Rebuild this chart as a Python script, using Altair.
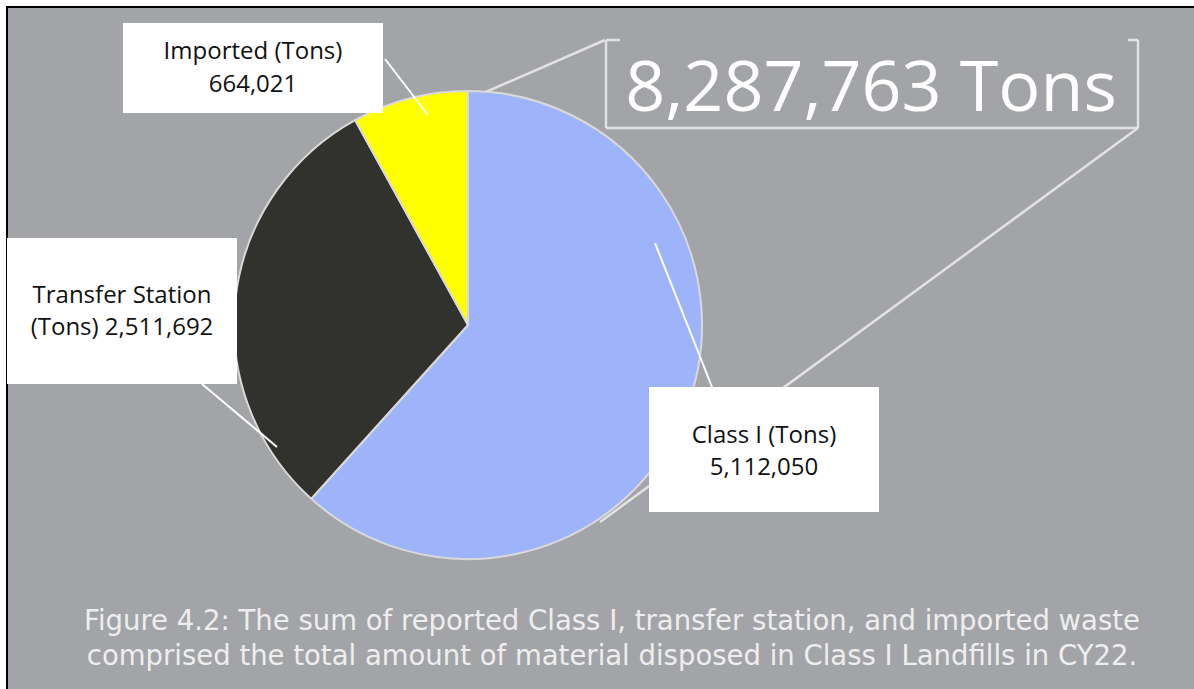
import altair as alt
import pandas as pd

# ---- data ----
categories = ["Class I", "Transfer Station", "Imported"]
tons = [5112050, 2511692, 664021]
slice_colors = ["#9db4fb", "#31312d", "#ffff00"]
caption_lines = [
    "Figure 4.2: The sum of reported Class I, transfer station, and imported waste",
    "comprised the total amount of material disposed in Class I Landfills in CY22.",
]

total = sum(tons)
fmt = lambda v: f"{v:,}"

# label text lines built from the data
label_lines = {
    "Class I": [f"Class I (Tons)", fmt(tons[0])],
    "Transfer Station": ["Transfer Station", f"(Tons) {fmt(tons[1])}"],
    "Imported": ["Imported (Tons)", fmt(tons[2])],
}

# ---- layout (pixel positions of annotations) ----
W, H = 1194, 689
CX, CY, R = 468, 325, 234
BG = "#a3a4a8"

box_pos = {  # x, x2, y, y2, text center x, first line y, second line y
    "Imported": (123, 383, 23, 113, 253, 52, 85),
    "Transfer Station": (7, 237, 238, 384, 122, 296, 328),
    "Class I": (649, 879, 387, 512, 764, 436, 468),
}
leaders = [  # white leader lines
    (385, 59, 428, 115),
    (202, 384, 277, 447),
    (712, 387, 655, 243),
]
callout = [  # light lines of the total callout
    (605, 40, 472, 98),
    (1138, 128, 600, 522),
    (606, 40, 606, 128),
    (606, 128, 1138, 128),
    (1138, 40, 1138, 128),
    (606, 40, 620, 40),
    (1128, 40, 1138, 40),
]

X = lambda f: alt.X(f, type="quantitative", scale=None, axis=None)
Y = lambda f: alt.Y(f, type="quantitative", scale=None, axis=None)
X2 = lambda f: alt.X2(f)
Y2 = lambda f: alt.Y2(f)

frame = alt.Chart(pd.DataFrame([{"x": 7, "x2": W + 20, "y": 7, "y2": H + 20}])).mark_rect(
    fill=BG, stroke="black", strokeWidth=2
).encode(x=X("x"), x2=X2("x2"), y=Y("y"), y2=Y2("y2"))

cl = pd.DataFrame([{"x": a, "y": b, "x2": c, "y2": d} for a, b, c, d in callout])
callout_layer = alt.Chart(cl).mark_rule(color="#e2e2e2", strokeWidth=2.5).encode(
    x=X("x"), y=Y("y"), x2=X2("x2"), y2=Y2("y2")
)

pie_df = pd.DataFrame({"category": categories, "tons": tons, "order": list(range(len(categories)))})
pie = alt.Chart(pie_df).mark_arc(outerRadius=R, stroke="#d9d9d9", strokeWidth=2).encode(
    theta=alt.Theta("tons:Q", stack=True),
    color=alt.Color("category:N", scale=alt.Scale(domain=categories, range=slice_colors), legend=None),
    order=alt.Order("order:Q"),
    x=alt.value(CX),
    y=alt.value(CY),
)

ld = pd.DataFrame([{"x": a, "y": b, "x2": c, "y2": d} for a, b, c, d in leaders])
leader_layer = alt.Chart(ld).mark_rule(color="white", strokeWidth=2).encode(
    x=X("x"), y=Y("y"), x2=X2("x2"), y2=Y2("y2")
)

boxes = pd.DataFrame(
    [{"x": v[0], "x2": v[1], "y": v[2], "y2": v[3]} for v in box_pos.values()]
)
box_layer = alt.Chart(boxes).mark_rect(fill="white").encode(
    x=X("x"), x2=X2("x2"), y=Y("y"), y2=Y2("y2")
)

rows = []
for cat in categories:
    p = box_pos[cat]
    l1, l2 = label_lines[cat]
    rows.append({"x": p[4], "y": p[5], "t": l1})
    rows.append({"x": p[4], "y": p[6], "t": l2})
label_layer = alt.Chart(pd.DataFrame(rows)).mark_text(
    font="Open Sans", fontSize=24, color="#111111", align="center", baseline="middle"
).encode(x=X("x"), y=Y("y"), text="t:N")

total_layer = alt.Chart(pd.DataFrame([{"x": 871, "y": 90, "t": f"{total:,} Tons"}])).mark_text(
    font="Open Sans", fontSize=70, color="white", align="center", baseline="middle"
).encode(x=X("x"), y=Y("y"), text="t:N")

cap_df = pd.DataFrame([{"x": 612, "y": 622 + 35 * i, "t": t} for i, t in enumerate(caption_lines)])
caption_layer = alt.Chart(cap_df).mark_text(
    font="DejaVu Sans", fontSize=27.5, color="#eeeeee", align="center", baseline="middle"
).encode(x=X("x"), y=Y("y"), text="t:N")

chart = alt.layer(
    frame, callout_layer, pie, leader_layer, box_layer, label_layer, total_layer, caption_layer
).properties(width=W, height=H, padding=0, autosize="none", background="white").configure_view(stroke=None)

chart.save("out.html", embed_options={"renderer": "svg", "actions": False})
